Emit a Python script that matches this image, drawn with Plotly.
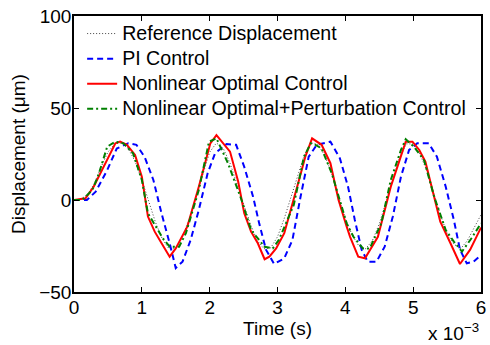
import plotly.graph_objects as go

# Time in units of 1e-3 s
t_ref = [0.0, 0.1, 0.2, 0.3, 0.4, 0.5, 0.6, 0.7, 0.8, 0.9, 1.0, 1.1, 1.2, 1.3, 1.4, 1.5, 1.6, 1.7, 1.8, 1.9,
         2.0, 2.1, 2.2, 2.3, 2.4, 2.5, 2.6, 2.7, 2.8, 2.9, 3.0, 3.1, 3.2, 3.3, 3.4, 3.5, 3.6, 3.7, 3.8, 3.9,
         4.0, 4.1, 4.2, 4.3, 4.4, 4.5, 4.6, 4.7, 4.8, 4.9, 5.0, 5.1, 5.2, 5.3, 5.4, 5.5, 5.6, 5.7, 5.8, 5.9, 6.0]
y_ref = [0, 0.5, 3, 9, 18, 26, 30.5, 31, 28, 21, 11, -1, -12, -21, -26.5, -26, -20, -10, 2, 15,
         26, 31, 28, 20, 9, -2, -13, -22, -26.5, -26, -20, -10, 2, 14, 25, 31, 30, 24, 14, 2,
         -10, -19, -25, -26.5, -22, -13, -1, 11, 23, 30.5, 30.5, 25, 16, 4, -8, -18, -24, -26.5, -22, -15, -8]

t_pi = [0, 0.19, 0.32, 0.49, 0.63, 0.80, 0.92, 1.04, 1.17, 1.29, 1.41, 1.50, 1.60, 1.72, 1.84, 1.97, 2.08,
        2.25, 2.39, 2.51, 2.64, 2.73, 2.83, 2.95, 3.10, 3.22, 3.34, 3.46, 3.58, 3.78, 3.92, 4.04, 4.14,
        4.24, 4.33, 4.46, 4.58, 4.70, 4.82, 4.94, 5.06, 5.23, 5.35, 5.48, 5.60, 5.69, 5.79, 5.89, 6.0]
y_pi = [0, 0, 4.5, 16.3, 28, 30.8, 30, 23.5, 10.9, -7.2, -23.5, -37, -33.5, -21.7, -5.4, 14.5, 25.4,
        30.4, 30, 18, 1.8, -12.7, -27, -34.8, -31.7, -21.7, 1.8, 23.5, 30, 31.7, 22.6, 7.2, -10.9,
        -27, -33.5, -33.5, -25.4, -9, 12.7, 27.2, 30.8, 30.8, 23.5, 7.2, -10.9, -27, -34.4, -33.5, -30]

t_nlo = [0, 0.17, 0.29, 0.44, 0.61, 0.68, 0.78, 0.90, 1.00, 1.09, 1.19, 1.30, 1.41, 1.50, 1.67, 1.84,
         2.01, 2.10, 2.20, 2.30, 2.42, 2.51, 2.61, 2.71, 2.81, 2.88, 2.98, 3.10, 3.29, 3.41, 3.51, 3.65,
         3.78, 3.90, 4.02, 4.07, 4.19, 4.29, 4.48, 4.67, 4.80, 4.89, 4.99, 5.09, 5.18, 5.31, 5.40, 5.55,
         5.69, 5.84, 6.0]
y_nlo = [0, 0.9, 7.2, 18, 30.8, 31.7, 30, 24.5, 12.7, -9, -17.2, -24, -30.8, -26.3, -14.5, 7.2,
         30.8, 35.3, 30.8, 26.3, 10, -7.2, -17.2, -23.5, -32.2, -30.8, -26.3, -18, 7.2, 23.5, 33.5, 30,
         20, 0, -14.5, -20, -30.8, -31.7, -20, 7.2, 21.7, 31.7, 31.7, 27.2, 20.8, 1.8, -11.8, -23.5,
         -34.8, -27, -15]

t_nlp = [0, 0.12, 0.27, 0.36, 0.49, 0.61, 0.73, 0.87, 1.00, 1.09, 1.31, 1.41, 1.55, 1.65, 1.84, 1.99,
         2.10, 2.27, 2.47, 2.61, 2.81, 2.93, 3.02, 3.24, 3.39, 3.49, 3.56, 3.65, 3.80, 3.92, 4.02, 4.12,
         4.26, 4.36, 4.53, 4.67, 4.82, 4.89, 5.01, 5.16, 5.31, 5.48, 5.60, 5.72, 5.86, 6.0]
y_nlp = [0, 0, 5.4, 13.6, 29, 31.7, 30.8, 25.4, 10.9, -7.2, -20.8, -25.4, -25.4, -18, 5.4, 31.7,
         33.5, 20, 0, -16.3, -25.4, -26.3, -21.7, -2.7, 23.5, 30.8, 30, 28, 14.5, 0, -12.7, -20,
         -26.3, -26.3, -12.7, 10.9, 27.2, 33, 29, 21.7, 1.8, -16.3, -22.6, -28, -20.8, -12.7]

names = ["Reference Displacement", "PI Control", "Nonlinear Optimal Control",
         "Nonlinear Optimal+Perturbation Control"]
x_ticks = [0, 1, 2, 3, 4, 5, 6]
y_ticks = [-50, 0, 50, 100]

FONT = "Liberation Sans, Arial, sans-serif"


def big(s):
    return '<span style="font-size:19.6px">' + s + '</span>'


fig = go.Figure()
fig.add_trace(go.Scatter(x=t_ref, y=y_ref, mode="lines", name=big(names[0]), legendgroup="a",
                         line=dict(color="#444444", width=1, dash="1px,2px")))
fig.add_trace(go.Scatter(x=t_pi, y=y_pi, mode="lines", name=big(names[1]), legendgroup="b",
                         line=dict(color="#0000ff", width=2, dash="6px,4px")))
fig.add_trace(go.Scatter(x=t_nlo, y=y_nlo, mode="lines", name=big(names[2]), legendgroup="c",
                         line=dict(color="#ff0000", width=2)))
fig.add_trace(go.Scatter(x=t_nlp, y=y_nlp, mode="lines", name=big(names[3]), legendgroup="d",
                         line=dict(color="#008000", width=2, dash="6px,3px,2px,3px")))

axis_common = dict(showline=True, linecolor="black", linewidth=1.5, mirror="allticks",
                   ticks="inside", ticklen=5, tickcolor="black", tickwidth=1,
                   showgrid=False, zeroline=False,
                   tickfont=dict(family=FONT, size=19, color="black"))

fig.update_xaxes(range=[0, 6], tickvals=x_ticks, ticktext=[str(v) for v in x_ticks],
                 ticklabelstandoff=-3,
                 title=dict(text="Time (s)", font=dict(family=FONT, size=19, color="black"), standoff=2),
                 **axis_common)
fig.update_yaxes(range=[-50, 100], tickvals=y_ticks, ticktext=["\u221250", "0", "50", "100"],
                 ticklabelstandoff=-3,
                 title=dict(text="Displacement (\u03bcm)", font=dict(family=FONT, size=19, color="black"),
                            standoff=9),
                 **axis_common)

fig.add_annotation(text="x 10<sup>\u22123</sup>", xref="paper", yref="paper", x=1.0, y=0,
                   xanchor="right", yanchor="top", yshift=-26, showarrow=False,
                   font=dict(family=FONT, size=19, color="black"))

fig.update_layout(
    width=490, height=345,
    margin=dict(l=74, r=4, t=16, b=53),
    paper_bgcolor="white", plot_bgcolor="white",
    font=dict(family=FONT, size=19, color="black"),
    legend=dict(x=0.02, y=1.0, xanchor="left", yanchor="top", bgcolor="rgba(0,0,0,0)",
                borderwidth=0, font=dict(family=FONT, size=17, color="black"),
                tracegroupgap=0, traceorder="grouped"),
    showlegend=True,
)

fig.write_html("out.html")
